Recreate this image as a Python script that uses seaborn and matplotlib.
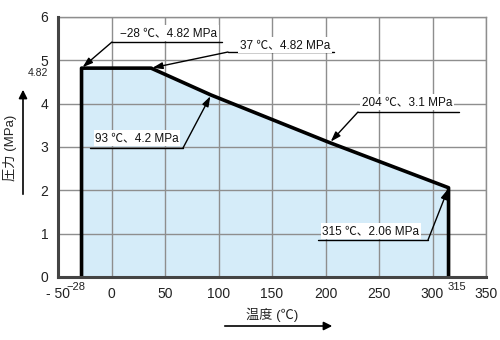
import matplotlib
matplotlib.use("Agg")
import matplotlib.pyplot as plt
import seaborn as sns
import pandas as pd

# ---- data ----
temps = [-28, -28, 37, 93, 204, 315, 315]
pressures = [0, 4.82, 4.82, 4.2, 3.1, 2.06, 0]
x_ticks = [-50, 0, 50, 100, 150, 200, 250, 300, 350]
x_tick_labels = ["- 50", "0", "50", "100", "150", "200", "250", "300", "350"]
y_ticks = [0, 1, 2, 3, 4, 5, 6]
ann_labels = ["−28 ℃、4.82 MPa", "37 ℃、4.82 MPa", "93 ℃、4.2 MPa",
              "204 ℃、3.1 MPa", "315 ℃、2.06 MPa"]
ann_points_x = [-28, 37, 93, 204, 315]
ann_points_y = [4.82, 4.82, 4.2, 3.1, 2.06]

sns.set_style("white")
plt.rcParams['font.family'] = ['Liberation Sans', 'Noto Sans CJK JP', 'DejaVu Sans']

df = pd.DataFrame({"temp": temps, "pres": pressures})

fig = plt.figure(figsize=(5, 3.4), dpi=100)
ax = fig.add_axes([58/500, 63/340, 428/500, 260/340])

ax.fill_between(df["temp"], df["pres"], 0, color="#d5ecf9", zorder=1, lw=0)
ax.set_xlim(-50, 350)
ax.set_ylim(0, 6)
ax.set_xticks(x_ticks)
ax.set_yticks(y_ticks)
ax.grid(True, color="#8e8e8e", lw=1.0, zorder=2)
ax.set_axisbelow(False)
sns.lineplot(data=df, x="temp", y="pres", sort=False, estimator=None,
             color="black", lw=2.6, ax=ax, zorder=4)
ax.set_xlabel("")
ax.set_ylabel("")
ax.set_xticklabels(x_tick_labels, fontsize=10, color="#222222")
ax.set_yticklabels([str(v) for v in y_ticks], fontsize=10, color="#222222")
ax.tick_params(length=0, pad=7)
for s in ["left", "bottom"]:
    ax.spines[s].set_color("#444444")
    ax.spines[s].set_linewidth(2.2)
    ax.spines[s].set_zorder(5)
for s in ["top", "right"]:
    ax.spines[s].set_color("#8e8e8e")
    ax.spines[s].set_linewidth(1.0)

# extra tick labels
ax.annotate("4.82", xy=(0, 4.82), xycoords=("axes fraction", "data"),
            xytext=(-7, -3.5), textcoords="offset points", ha="right", va="center",
            fontsize=7.5, color="#222222")
ax.annotate("−28", xy=(-28, 0), xycoords=("data", "axes fraction"),
            xytext=(-4, -7), textcoords="offset points", ha="center", va="center",
            fontsize=8, color="#222222")
ax.annotate("315", xy=(315, 0), xycoords=("data", "axes fraction"),
            xytext=(6, -7), textcoords="offset points", ha="center", va="center",
            fontsize=8, color="#222222")

def px2d(px, py):
    return ((px - 58) / 1.07 - 50, (277 - py) / (260 / 6))

layout = [
    ((169, 33), 112, 222, 42, 'L'),
    ((285, 45), 228, 334, 52, 'L'),
    ((137, 138), 90, 183, 148, 'R'),
    ((407, 102), 358, 459, 112, 'L'),
    ((371, 231), 318, 428, 240, 'R'),
]
for lab, xp, yp, (tc, u0, u1, uy, side) in zip(ann_labels, ann_points_x, ann_points_y, layout):
    tx, ty = px2d(*tc)
    x0, y0 = px2d(u0, uy)
    x1, _ = px2d(u1, uy)
    ax.plot([x0, x1], [y0, y0], color="black", lw=1.0, zorder=6)
    ax.text(tx, ty, lab, ha="center", va="center", fontsize=8.5, color="#111111",
            zorder=6, bbox=dict(facecolor="white", edgecolor="none", pad=1.2))
    sx = x0 if side == 'L' else x1
    ax.annotate("", xy=(xp, yp), xytext=(sx, y0),
                arrowprops=dict(arrowstyle="-|>,head_length=0.6,head_width=0.2",
                                color="black", lw=1.0, shrinkA=0, shrinkB=1),
                zorder=7)

fig.text(10/500, 192/340, "圧力 (MPa)", rotation=90, ha="center", va="center",
         fontsize=9.5, color="#222222")
fig.add_artist(matplotlib.patches.FancyArrowPatch((23/500, 143/340), (23/500, 253/340),
               transform=fig.transFigure, arrowstyle="-|>,head_length=5,head_width=2.5",
               color="black", lw=1.2))
fig.text(272/500, 25/340, "温度 (℃)", ha="center", va="center",
         fontsize=9.5, color="#222222")
fig.add_artist(matplotlib.patches.FancyArrowPatch((222/500, 14/340), (335/500, 14/340),
               transform=fig.transFigure, arrowstyle="-|>,head_length=5,head_width=2.5",
               color="black", lw=1.2))

fig.savefig("out.png", dpi=100)
